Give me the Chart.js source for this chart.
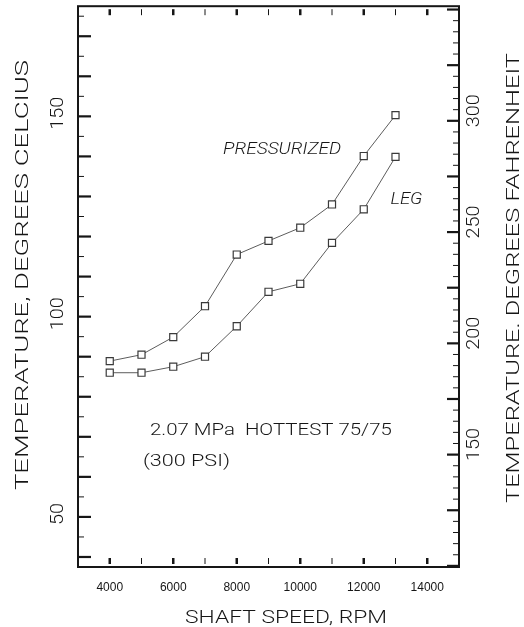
<!DOCTYPE html>
<html>
<head>
<meta charset="utf-8">
<script src="https://cdn.jsdelivr.net/npm/chart.js@4.4.0/dist/chart.umd.min.js"></script>
<style>
  html, body { margin: 0; padding: 0; background: #fff; }
  canvas { display: block; }
</style>
</head>
<body>
<canvas id="chart" width="524" height="627"></canvas>
<script>
//--- data
var rpm = [4000, 5000, 6000, 7000, 8000, 9000, 10000, 11000, 12000, 13000];
var pressurized = [88.9, 90.5, 94.9, 102.6, 115.5, 118.9, 122.2, 128.0, 140.1, 150.3];
var leg = [86.0, 86.0, 87.5, 90.0, 97.6, 106.2, 108.2, 118.4, 126.8, 139.9];
var xTickLabels = [4000, 6000, 8000, 10000, 12000, 14000];
var celsiusTickLabels = [50, 100, 150];
var fahrenheitTickLabels = [150, 200, 250, 300];

var xMin = 3000, xMax = 15000;
var cMin = 37.5, cMax = 177.5;
function toF(c) { return c * 1.8 + 32; }

var ink = '#161616';
var face = 'Roboto, "Liberation Sans", sans-serif';

// draws text centred on x,y and squeezed/stretched to a given width
function fitText(ctx, text, x, y, width, font, rot) {
    ctx.save();
    ctx.font = font;
    var w = ctx.measureText(text).width;
    ctx.translate(x, y);
    if (rot) ctx.rotate(rot);
    ctx.scale(width / w, 1);
    ctx.textAlign = 'center';
    ctx.textBaseline = 'middle';
    ctx.fillStyle = ink;
    ctx.fillText(text, 0, 0);
    ctx.restore();
}

function line(ctx, x1, y1, x2, y2) {
    ctx.beginPath();
    ctx.moveTo(x1, y1);
    ctx.lineTo(x2, y2);
    ctx.stroke();
}

var frame = {
    id: 'frame',
    afterDraw: function (chart) {
        var ctx = chart.ctx, a = chart.chartArea;
        var x = chart.scales.x, y = chart.scales.y, y2 = chart.scales.y2;
        ctx.save();
        ctx.strokeStyle = ink;
        ctx.lineWidth = 2;
        ctx.strokeRect(a.left, a.top, a.right - a.left, a.bottom - a.top);

        // speed ticks, top and bottom
        for (var v = 4000; v <= 14000; v += 1000) {
            var px = x.getPixelForValue(v);
            var major = v % 2000 === 0;
            ctx.lineWidth = major ? 2.5 : 1;
            line(ctx, px, a.bottom - 3, px, a.bottom - 9);
            line(ctx, px, a.top + 3, px, a.top + 9);
        }
        // celcius ticks, left
        for (var c = 40; c < cMax; c += 5) {
            var py = y.getPixelForValue(c);
            var bold = c % 10 === 0;
            ctx.lineWidth = bold ? 2.2 : 1;
            line(ctx, a.left, py, a.left + (bold ? 13 : 6), py);
        }
        // fahrenheit ticks, right
        for (var f = 100; f <= 350; f += 5) {
            var fy = y2.getPixelForValue(f);
            var big = f % 25 === 0;
            ctx.lineWidth = big ? 2.2 : 1;
            line(ctx, a.right, fy, a.right - (big ? 12 : 6), fy);
        }
        ctx.restore();

        // tick labels
        xTickLabels.forEach(function (v) {
            ctx.save();
            ctx.font = '12px "Liberation Sans", sans-serif';
            ctx.fillStyle = ink;
            ctx.textAlign = 'center';
            ctx.textBaseline = 'middle';
            ctx.fillText(String(v), x.getPixelForValue(v), a.bottom + 21);
            ctx.restore();
        });
        celsiusTickLabels.forEach(function (v) {
            var s = String(v);
            fitText(ctx, s, a.left - 20, y.getPixelForValue(v) - 3, s.length * 11, '300 18px ' + face, -Math.PI / 2);
        });
        fahrenheitTickLabels.forEach(function (v) {
            var s = String(v);
            fitText(ctx, s, a.right + 15, y2.getPixelForValue(v) - 10, s.length * 11, '300 18px ' + face, -Math.PI / 2);
        });

        // axis titles
        fitText(ctx, 'SHAFT SPEED, RPM', 286, a.bottom + 51, 202, '300 18px ' + face);
        fitText(ctx, 'TEMPERATURE, DEGREES CELCIUS', 23, 275, 430, '300 18px ' + face, -Math.PI / 2);
        fitText(ctx, 'TEMPERATURE. DEGREES FAHRENHEIT', 514, 278, 450, '300 18px ' + face, -Math.PI / 2);

        // curve names and test condition
        function note(text, vx, vc, width, font) {
            ctx.save();
            ctx.font = font;
            var w = ctx.measureText(text).width;
            var px = x.getPixelForValue(vx), py = y.getPixelForValue(vc);
            fitText(ctx, text, px + width / 2, py, width, font);
            ctx.restore();
        }
        note('PRESSURIZED', 7570, 141.6, 118, 'italic 300 16px ' + face);
        note('LEG', 12840, 129.1, 32, 'italic 300 16px ' + face);
        note('2.07 MPa  HOTTEST 75/75', 5265, 71.4, 242, '300 17px ' + face);
        note('(300 PSI)', 5045, 63.7, 87, '300 17px ' + face);
    }
};

function series(values) {
    return rpm.map(function (r, i) { return { x: r, y: values[i] }; });
}

var lineStyle = {
    borderColor: '#5c5c5c',
    borderWidth: 1,
    pointStyle: 'rect',
    pointRadius: 5,
    pointBorderColor: '#3a3a3a',
    pointBackgroundColor: '#fff',
    pointBorderWidth: 1.2,
    tension: 0,
    fill: false
};

var chart = new Chart(document.getElementById('chart'), {
    type: 'line',
    data: {
        datasets: [
            Object.assign({ label: 'PRESSURIZED', data: series(pressurized) }, lineStyle),
            Object.assign({ label: 'LEG', data: series(leg) }, lineStyle)
        ]
    },
    options: {
        responsive: false,
        devicePixelRatio: 1,
        animation: false,
        layout: { padding: { left: 78, right: 65, top: 6, bottom: 60 } },
        plugins: { legend: { display: false }, tooltip: { enabled: false } },
        scales: {
            x: { type: 'linear', min: xMin, max: xMax, display: false },
            y: { type: 'linear', min: cMin, max: cMax, display: false },
            y2: { type: 'linear', position: 'right', min: toF(cMin), max: toF(cMax), display: false }
        }
    },
    plugins: [frame]
});
</script>
</body>
</html>
